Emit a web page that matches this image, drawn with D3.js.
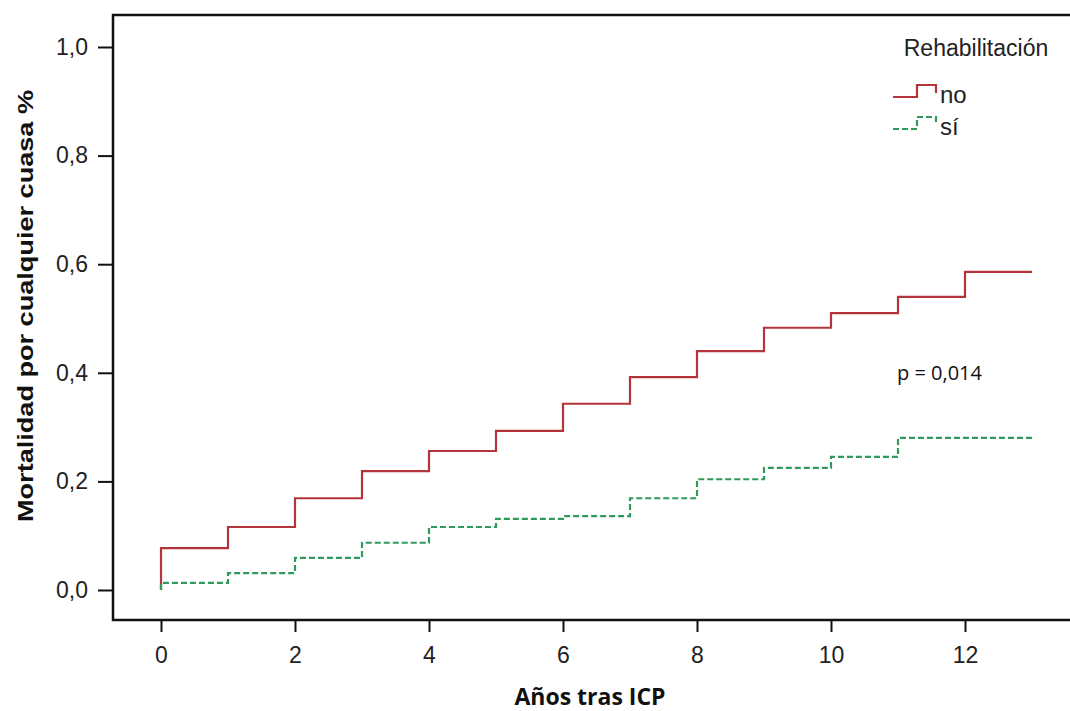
<!DOCTYPE html>
<html>
<head>
<meta charset="utf-8">
<script src="https://cdn.jsdelivr.net/npm/d3@7"></script>
<style>
  body { margin: 0; background: #fff; }
  svg { display: block; }
  .tick text { font-family: "Liberation Sans", Arial, sans-serif; font-size: 23px; fill: #222; }
  .tick line { stroke: #111; stroke-width: 2; }
</style>
</head>
<body>
<svg id="chart"></svg>
<script>
// años tras ICP (inicio de cada escalón) y fin del seguimiento
const years = [0, 1, 2, 3, 4, 5, 6, 7, 8, 9, 10, 11, 12]
const endYear = 13
// mortalidad acumulada
const noRehab = [0.077, 0.116, 0.169, 0.219, 0.256, 0.293, 0.343, 0.392, 0.440, 0.483, 0.510, 0.540, 0.586]
const siRehab = [0.013, 0.031, 0.059, 0.087, 0.116, 0.131, 0.136, 0.169, 0.204, 0.225, 0.245, 0.280, 0.280]
const xTicks = [0, 2, 4, 6, 8, 10, 12]
const yTicks = [0, 0.2, 0.4, 0.6, 0.8, 1.0]

const width = 1070
const height = 711

const svg = d3.select("#chart")
  .attr("width", width)
  .attr("height", height)

const x = d3.scaleLinear().domain([0, endYear]).range([161, 1032])
const y = d3.scaleLinear().domain([0, 1]).range([590, 47])

// marco
svg.append("rect")
  .attr("x", 113)
  .attr("y", 15)
  .attr("width", 1000)
  .attr("height", 605)
  .attr("fill", "none")
  .attr("stroke", "#111")
  .attr("stroke-width", 2.5)

const comma = d => d3.format(".1f")(d).replace(".", ",")

svg.append("g")
  .attr("transform", "translate(0,620)")
  .call(d3.axisBottom(x).tickValues(xTicks).tickSize(12).tickPadding(15).tickFormat(d3.format("d")))
  .call(g => g.select(".domain").remove())

svg.append("g")
  .attr("transform", "translate(113,0)")
  .call(d3.axisLeft(y).tickValues(yTicks).tickSize(15).tickPadding(10).tickFormat(comma))
  .call(g => g.select(".domain").remove())

function stepPoints(vals) {
  const pts = [[0, 0]]
  years.forEach((t, i) => pts.push([t, vals[i]]))
  pts.push([endYear, vals[vals.length - 1]])
  return pts
}

const line = d3.line()
  .x(d => x(d[0]))
  .y(d => y(d[1]))
  .curve(d3.curveStepAfter)

const series = [
  { name: "no", vals: noRehab, color: "#b3343b", dash: null },
  { name: "sí", vals: siRehab, color: "#2f9a5c", dash: "6,3" }
]

series.forEach(s => {
  svg.append("path")
    .datum(stepPoints(s.vals))
    .attr("d", line)
    .attr("fill", "none")
    .attr("stroke", s.color)
    .attr("stroke-width", 2.2)
    .attr("stroke-dasharray", s.dash)
})

// leyenda
svg.append("text")
  .attr("x", 976)
  .attr("y", 56)
  .attr("text-anchor", "middle")
  .style("font-family", "Liberation Sans, Arial, sans-serif")
  .style("font-size", "23px")
  .attr("fill", "#222")
  .text("Rehabilitación")

const legend = svg.append("g")
series.forEach((s, i) => {
  const ly = 97 + i * 32
  legend.append("path")
    .attr("d", `M893,${ly} H917 V${ly - 12} H936 V${ly - 4}`)
    .attr("fill", "none")
    .attr("stroke", s.color)
    .attr("stroke-width", 2.2)
    .attr("stroke-dasharray", s.dash)
  legend.append("text")
    .attr("x", 940)
    .attr("y", ly + 6)
    .style("font-family", "Liberation Sans, Arial, sans-serif")
    .style("font-size", "24px")
    .attr("fill", "#222")
    .text(s.name)
})

svg.append("text")
  .attr("x", 897)
  .attr("y", 380)
  .style("font-family", "Open Sans, Liberation Sans, sans-serif")
  .style("font-size", "20px")
  .attr("fill", "#111")
  .text("p = 0,014")

// títulos de ejes
svg.append("text")
  .attr("x", 590)
  .attr("y", 705)
  .attr("text-anchor", "middle")
  .style("font-family", "Open Sans, Liberation Sans, sans-serif")
  .style("font-size", "23px")
  .style("font-weight", "bold")
  .attr("fill", "#111")
  .text("Años tras ICP")

svg.append("text")
  .attr("transform", "translate(33,306) rotate(-90)")
  .attr("text-anchor", "middle")
  .style("font-family", "Liberation Sans Narrow, Liberation Sans, sans-serif")
  .style("font-size", "22px")
  .style("font-weight", "bold")
  .attr("fill", "#111")
  .attr("textLength", 432)
  .attr("lengthAdjust", "spacingAndGlyphs")
  .text("Mortalidad por cualquier cuasa %")
</script>
</body>
</html>
